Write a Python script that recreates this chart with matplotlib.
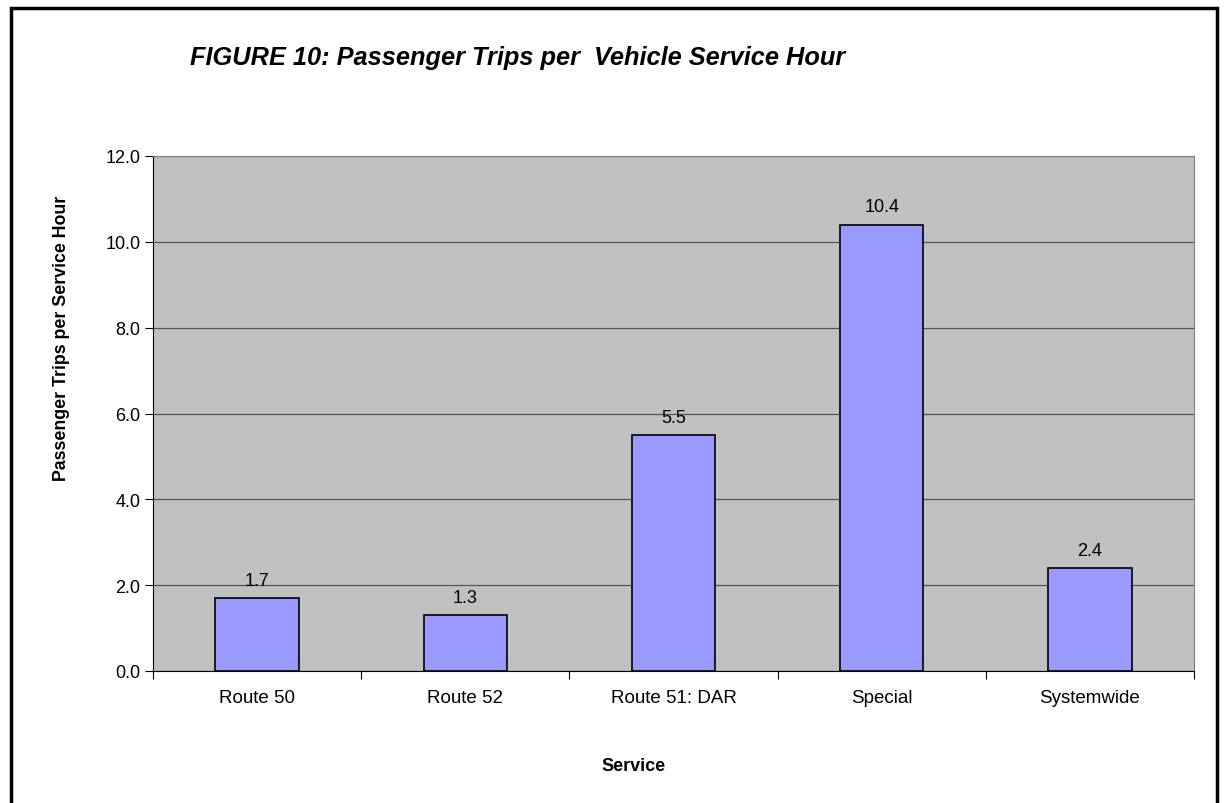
import matplotlib.pyplot as plt
from matplotlib.patches import Rectangle

services = ['Route 50', 'Route 52', 'Route 51: DAR', 'Special', 'Systemwide']
trips_per_hour = [1.7, 1.3, 5.5, 10.4, 2.4]
y_ticks = [0.0, 2.0, 4.0, 6.0, 8.0, 10.0, 12.0]

plt.rcParams['font.family'] = ['Liberation Sans', 'DejaVu Sans']

W, H = 1225, 804
fig = plt.figure(figsize=(W / 100, H / 100), dpi=100)
ax = fig.add_axes([153 / W, 1 - 672 / H, (1194 - 153) / W, (672 - 157) / H])

# outer frame (bottom edge runs off the page)
fig.patches.append(Rectangle((11 / W, -0.05), (1217 - 11) / W, 1.05 - 9 / H,
                             transform=fig.transFigure, fill=False,
                             edgecolor='black', linewidth=2.5))

ax.set_facecolor('#C0C0C0')
x = range(len(services))
bars = ax.bar(x, trips_per_hour, width=0.4, color='#9999FF',
              edgecolor='black', linewidth=1.2, zorder=3)

for xi, v in zip(x, trips_per_hour):
    ax.text(xi, v + 0.22, f'{v:.1f}', ha='center', va='bottom', fontsize=13, zorder=4)

ax.set_xlim(-0.5, len(services) - 0.5)
ax.set_ylim(0, 12)
ax.set_yticks(y_ticks)
ax.set_yticklabels([f'{t:.1f}' for t in y_ticks], fontsize=13)
ax.yaxis.grid(True, color='#555555', linewidth=0.9, zorder=1)
ax.set_axisbelow(True)

# category separators as major ticks, names on minor ticks
ax.set_xticks([i + 0.5 for i in range(-1, len(services))], minor=False)
ax.set_xticklabels([])
ax.set_xticks(list(x), minor=True)
ax.set_xticklabels(services, minor=True, fontsize=13.5)
ax.tick_params(axis='x', which='major', length=6, direction='out', color='black')
ax.tick_params(axis='x', which='minor', length=0, pad=13)
ax.tick_params(axis='y', length=6, direction='out', color='black', pad=3)

for side in ['top', 'right']:
    ax.spines[side].set_color('#808080')
ax.spines['left'].set_color('black')
ax.spines['bottom'].set_color('black')

fig.text(634 / W, 1 - 767 / H, 'Service', fontsize=13, fontweight='bold',
         ha='center', va='center')
fig.text(62 / W, 1 - 338 / H, 'Passenger Trips per Service Hour', fontsize=12.8,
         fontweight='bold', rotation=90, ha='center', va='center')

fig.text(190 / W, 1 - 58 / H, 'FIGURE 10: Passenger Trips per  Vehicle Service Hour',
         fontsize=18.3, fontweight='bold', fontstyle='italic', va='center', ha='left')

fig.savefig('out.png', dpi=100)
